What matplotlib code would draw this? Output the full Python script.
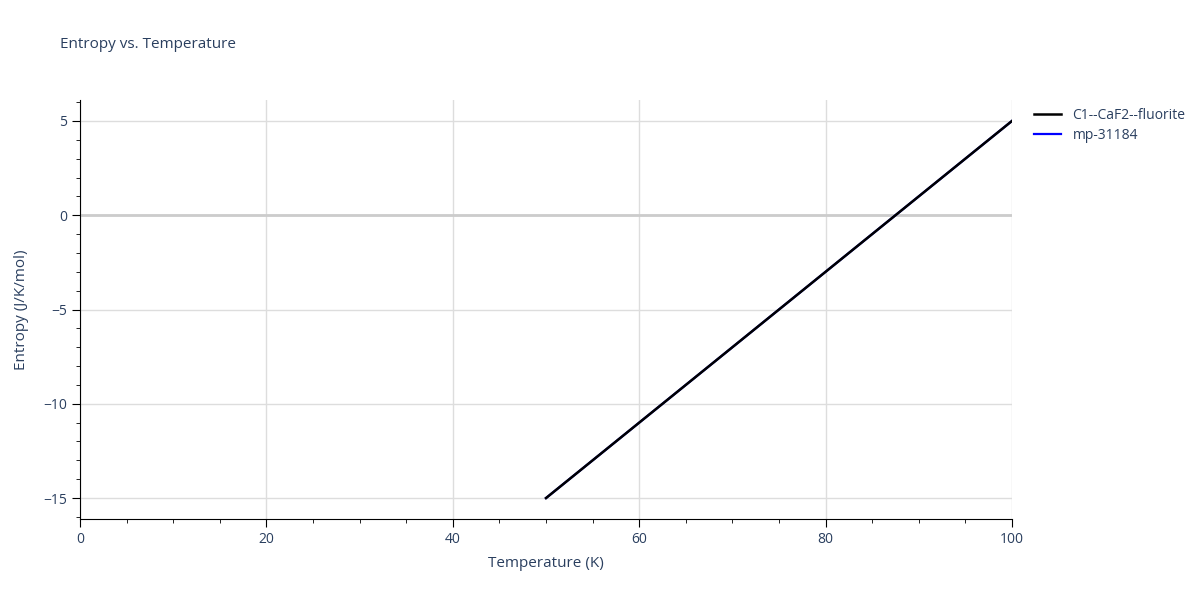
import matplotlib
matplotlib.use('Agg')
import matplotlib.pyplot as plt
from matplotlib.ticker import MultipleLocator

temps = [50, 100]
entropy_fluorite = [-15, 5]
entropy_mp = [-15, 5]

txt = '#2a3f5f'
plt.rcParams['font.family'] = ['Open Sans', 'DejaVu Sans']

fig = plt.figure(figsize=(12, 6), dpi=100)
ax = fig.add_axes([80 / 1200, 1 - 519 / 600, 932 / 1200, 419 / 600])

ax.plot(temps, entropy_mp, color='blue', lw=1.6, label='mp-31184')
ax.plot(temps, entropy_fluorite, color='black', lw=1.8, label='C1--CaF2--fluorite')

ax.set_xlim(0, 100)
ax.set_ylim(-16.11, 6.11)
ax.xaxis.set_major_locator(MultipleLocator(20))
ax.xaxis.set_minor_locator(MultipleLocator(5))
ax.yaxis.set_major_locator(MultipleLocator(5))
ax.yaxis.set_minor_locator(MultipleLocator(1))
ax.grid(True, which='major', color='#dddddd', lw=1)
ax.axhline(0, color='#cccccc', lw=2, zorder=1)
ax.set_axisbelow(True)
for s in ['top', 'right']:
    ax.spines[s].set_visible(False)
for s in ['left', 'bottom']:
    ax.spines[s].set_color('black')
ax.tick_params(which='major', length=6, colors=txt, labelsize=10)
ax.tick_params(which='minor', length=3, color='black')
ax.tick_params(which='both', color='black')
ax.set_yticks([-15, -10, -5, 0, 5])
ax.set_yticklabels(['−15', '−10', '−5', '0', '5'])
ax.set_xlabel('Temperature (K)', color=txt, fontsize=11, labelpad=6)
ax.set_ylabel('Entropy (J/K/mol)', color=txt, fontsize=11, labelpad=10)

fig.text(60 / 1200, 1 - 45 / 600, 'Entropy vs. Temperature', color=txt, fontsize=11, va='center')

h, l = ax.get_legend_handles_labels()
fig.legend(h[::-1], l[::-1], loc='upper left', bbox_to_anchor=(1028 / 1200, 1 - 102 / 600),
           frameon=False, fontsize=10, labelcolor=txt, handlelength=2, borderaxespad=0,
           labelspacing=0.4)

fig.savefig('out.png', dpi=100)
